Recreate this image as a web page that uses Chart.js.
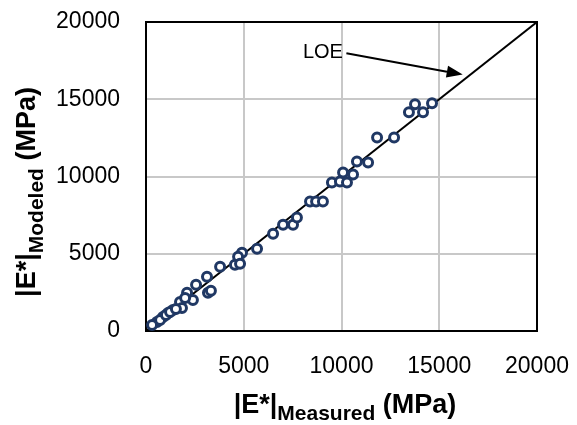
<!DOCTYPE html>
<html>
<head>
<meta charset="utf-8">
<script src="https://cdn.jsdelivr.net/npm/chart.js@4"></script>
<style>
  html, body { margin: 0; padding: 0; background: #fff; }
  #wrap { width: 577px; height: 425px; position: relative; }
</style>
</head>
<body>
<div id="wrap"><canvas id="chart"></canvas></div>
<script>
// measured |E*| (MPa)
const measured = [
  13450, 13760, 14170, 14630, 11820, 12690, 10790, 11360, 10080, 9510,
  9920, 10280, 10590, 8390, 8700, 9050, 6500, 7010, 7520, 7720,
  5680, 4910, 4710, 4550, 4810, 3790, 3120, 2560, 3170, 3320,
  2100, 2400, 1740, 1840, 1380, 1130, 870, 560, 310, 720,
  1020, 1230, 1530, 2000
];
// modeled |E*| (MPa)
const modeled = [
  14160, 14680, 14160, 14740, 12530, 12530, 10970, 10910, 10260, 9610,
  9680, 9610, 10130, 8380, 8380, 8380, 6300, 6880, 6880, 7340,
  5320, 5060, 4810, 4290, 4350, 4160, 3510, 2990, 2470, 2600,
  2470, 2010, 1880, 1490, 1360, 1170, 910, 580, 390, 710,
  1040, 1230, 1430, 2140
];
// line of equality
const loeX = [0, 20000];
const loeY = [0, 20000];
const axisTicks = [0, 5000, 10000, 15000, 20000];
// LOE label and arrow, in data units
const loeLabel = { text: 'LOE', x: 9050, y: 18050 };
const loeArrow = { fromX: 10250, fromY: 17980, toX: 16200, toY: 16600 };

const sans = "'Liberation Sans', Arial, sans-serif";
const tickMin = axisTicks[0];
const tickMax = axisTicks[axisTicks.length - 1];
const tickStep = axisTicks[1] - axisTicks[0];

function drawTitle(ctx, parts, cx, baseline) {
  let total = 0;
  parts.forEach(p => { ctx.font = p.font; p.w = ctx.measureText(p.text).width; total += p.w; });
  let x = cx - total / 2;
  parts.forEach(p => {
    ctx.font = p.font;
    ctx.fillText(p.text, x, baseline + (p.dy || 0));
    x += p.w;
  });
}

const decorPlugin = {
  id: 'decor',
  beforeDatasetsDraw(chart) {
    const a = chart.chartArea, ctx = chart.ctx;
    const xs = chart.scales.x, ys = chart.scales.y;
    ctx.save();
    // grid at the tick values
    ctx.fillStyle = '#c8c8c8';
    axisTicks.forEach(v => {
      const px = Math.round(xs.getPixelForValue(v));
      ctx.fillRect(px - 1, a.top, 2, a.bottom - a.top);
    });
    axisTicks.forEach(v => {
      const py = Math.round(ys.getPixelForValue(v));
      ctx.fillRect(a.left, py - 1, a.right - a.left, 2);
    });
    // plot frame
    ctx.strokeStyle = '#000';
    ctx.lineWidth = 2;
    ctx.strokeRect(a.left, a.top, a.right - a.left, a.bottom - a.top);
    ctx.restore();
  },
  afterDraw(chart) {
    const ctx = chart.ctx, xs = chart.scales.x, ys = chart.scales.y;
    ctx.save();
    ctx.fillStyle = '#000';
    ctx.textAlign = 'left';
    ctx.textBaseline = 'alphabetic';
    const main = "bold 27px " + sans;
    const sub = "bold 21px " + sans;
    // x title
    drawTitle(ctx, [
      { text: '|E*|', font: main },
      { text: 'Measured', font: sub, dy: 7 },
      { text: ' (MPa)', font: main }
    ], 345, 413);
    // y title
    ctx.translate(35, 192);
    ctx.rotate(-Math.PI / 2);
    drawTitle(ctx, [
      { text: '|E*|', font: main },
      { text: 'Modeled', font: sub, dy: 8 },
      { text: ' (MPa)', font: main }
    ], 0, 0);
    ctx.restore();

    // LOE label + arrow
    ctx.save();
    ctx.font = "20px " + sans;
    ctx.fillStyle = '#000';
    ctx.textAlign = 'center';
    ctx.textBaseline = 'middle';
    ctx.fillText(loeLabel.text, xs.getPixelForValue(loeLabel.x), ys.getPixelForValue(loeLabel.y));
    const x1 = xs.getPixelForValue(loeArrow.fromX), y1 = ys.getPixelForValue(loeArrow.fromY);
    const x2 = xs.getPixelForValue(loeArrow.toX), y2 = ys.getPixelForValue(loeArrow.toY);
    const ang = Math.atan2(y2 - y1, x2 - x1);
    const headLen = 16, headW = 6;
    const bx = x2 - headLen * Math.cos(ang), by = y2 - headLen * Math.sin(ang);
    ctx.strokeStyle = '#000';
    ctx.lineWidth = 2;
    ctx.beginPath();
    ctx.moveTo(x1, y1);
    ctx.lineTo(bx, by);
    ctx.stroke();
    ctx.beginPath();
    ctx.moveTo(x2, y2);
    ctx.lineTo(bx + headW * Math.sin(ang), by - headW * Math.cos(ang));
    ctx.lineTo(bx - headW * Math.sin(ang), by + headW * Math.cos(ang));
    ctx.closePath();
    ctx.fill();
    ctx.restore();
  }
};

const ctx = document.getElementById('chart').getContext('2d');
new Chart(ctx, {
  type: 'scatter',
  data: {
    datasets: [
      {
        label: 'LOE',
        data: loeX.map((v, i) => ({ x: v, y: loeY[i] })),
        showLine: true,
        borderColor: '#000',
        borderWidth: 2,
        pointRadius: 0,
        order: 2
      },
      {
        label: 'Data',
        data: measured.map((v, i) => ({ x: v, y: modeled[i] })),
        pointStyle: 'circle',
        pointRadius: 4.5,
        pointBorderWidth: 3,
        pointBorderColor: '#203864',
        pointBackgroundColor: '#fff',
        order: 1
      }
    ]
  },
  options: {
    responsive: true,
    maintainAspectRatio: false,
    animation: false,
    layout: { autoPadding: false, padding: { left: 0, top: 22, right: 40, bottom: 0 } },
    plugins: {
      legend: { display: false },
      tooltip: { enabled: false }
    },
    scales: {
      x: {
        type: 'linear',
        min: tickMin, max: tickMax,
        afterFit: s => { s.height = 94; s.paddingLeft = 0; s.paddingRight = 0; },
        grid: { display: false, drawTicks: false },
        border: { display: false },
        ticks: {
          stepSize: tickStep,
          color: '#000', font: { family: sans, size: 23 }, padding: 22, maxRotation: 0,
          callback: v => String(v)
        }
      },
      y: {
        type: 'linear',
        min: tickMin, max: tickMax,
        afterFit: s => { s.width = 146; s.paddingTop = 0; s.paddingBottom = 0; },
        grid: { display: false, drawTicks: false },
        border: { display: false },
        ticks: {
          stepSize: tickStep,
          color: '#000', font: { family: sans, size: 23 }, padding: 26,
          callback: v => String(v)
        }
      }
    }
  },
  plugins: [decorPlugin]
});
</script>
</body>
</html>
